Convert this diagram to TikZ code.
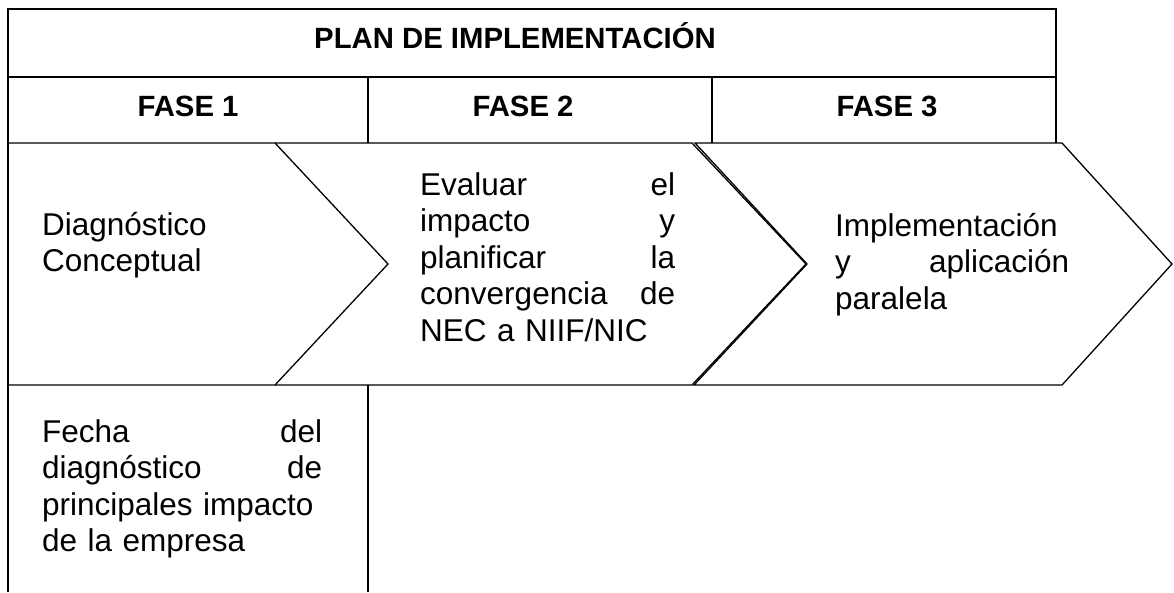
\documentclass[tikz,border=0pt]{standalone}
\usepackage{fontspec}
\setmainfont{Liberation Sans}
\begin{document}
\begin{tikzpicture}[x=1pt,y=-1pt,
  tbl/.style={line width=2pt},
  chev/.style={line width=1.3pt, line join=miter},
  hd/.style={font=\bfseries\fontsize{29.3}{34}\selectfont, inner sep=0pt, anchor=base},
  body/.style={font=\fontsize{31.5}{36.5}\selectfont, inner sep=0pt, anchor=base west, align=left}]
\useasboundingbox (0,0) rectangle (1174,592);
% table frame
\draw[tbl] (8,592) -- (8,9) -- (1056,9) -- (1056,143);
\draw[tbl] (8,77) -- (1056,77);
\draw[tbl] (368,77) -- (368,143);
\draw[tbl] (712,77) -- (712,143);
\draw[tbl] (368,385) -- (368,592);
% chevrons
\coordinate (c1a) at (8,143);   \coordinate (c1b) at (275,143);
\coordinate (c1t) at (388,264); \coordinate (c1c) at (275,385);
\coordinate (c1d) at (8,385);
\coordinate (c2b) at (692,143); \coordinate (c2t) at (806,264);
\coordinate (c2c) at (692,385);
\coordinate (c3a) at (695,143); \coordinate (c3b) at (1062,143);
\coordinate (c3t) at (1172,264);\coordinate (c3c) at (1062,385);
\coordinate (c3d) at (694,385); \coordinate (c3n) at (807,264);
\draw[chev] (c1a) -- (c1b) -- (c1t) -- (c1c) -- (c1d);
\draw[chev] (c1b) -- (c2b) -- (c2t) -- (c2c) -- (c1c);
\draw[chev] (c3a) -- (c3b) -- (c3t) -- (c3c) -- (c3d) -- (c3n) -- cycle;
% headings
\node[hd] (title) at (515,48) {PLAN DE IMPLEMENTACIÓN};
\node[hd] (f1) at (188,116) {FASE 1};
\node[hd] (f2) at (523,116) {FASE 2};
\node[hd] (f3) at (887,116) {FASE 3};
% texts
\node[body, text width=220pt] (t1) at (42,235) {Diagnóstico\\Conceptual};
\node[body, text width=255pt] (t2) at (420,195) {Evaluar\hfill el\\impacto\hfill y\\planificar\hfill la\\convergencia\hfill de\\NEC a NIIF/NIC};
\node[body, text width=234pt] (t3) at (835,236) {Implementación\\y\hfill aplicación\\paralela};
\node[body, text width=280pt] (t4) at (42,442) {Fecha\hfill del\\diagnóstico\hfill de\\principales impacto\\de la empresa};
\end{tikzpicture}
\end{document}
